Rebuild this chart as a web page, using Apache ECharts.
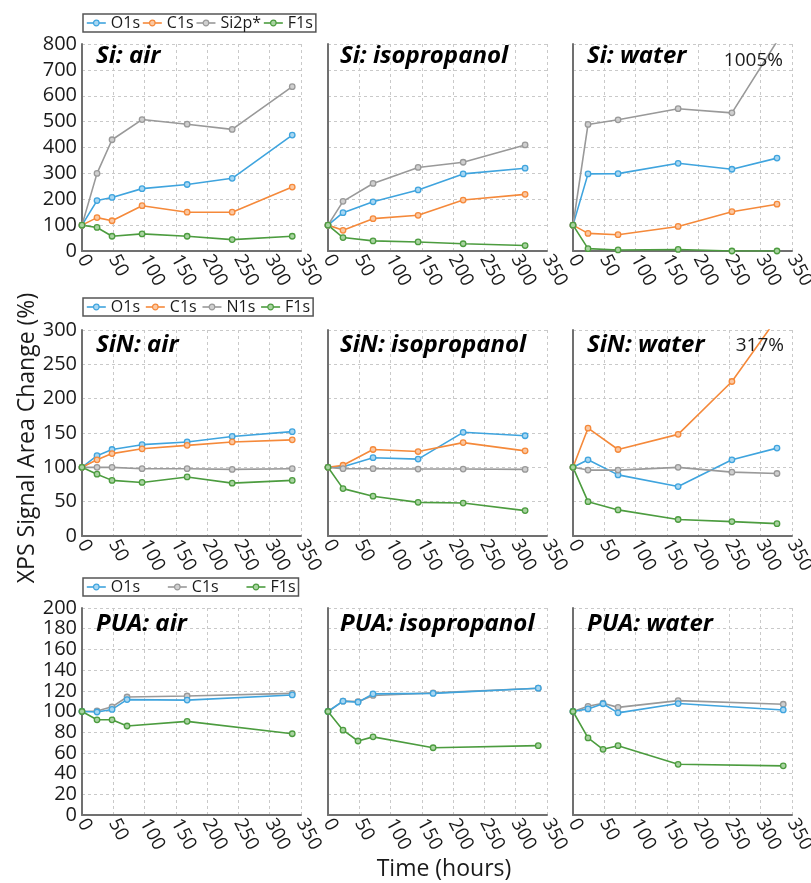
<!DOCTYPE html>
<html><head><meta charset="utf-8">
<script src="https://cdn.jsdelivr.net/npm/echarts@6/dist/echarts.min.js"></script>
<style>html,body{margin:0;padding:0;background:#fff}#c{width:811px;height:883px}</style>
</head><body><div id="c"></div>
<script>
// ---- Data ----
const xTicks = [0, 50, 100, 150, 200, 250, 300, 350];
const rowYMax = [800, 300, 200];
const rowYStep = [100, 50, 20];

const siAirTime = [0, 24, 48, 96, 168, 240, 336];
const siAirO1s  = [100, 195, 207, 241, 257, 281, 448];
const siAirC1s  = [100, 129, 117, 175, 150, 150, 247];
const siAirSi2p = [100, 300, 430, 508, 490, 470, 635];
const siAirF1s  = [100, 91, 57, 66, 57, 44, 57];

const siIpaTime = [0, 24, 72, 144, 216, 315];
const siIpaO1s  = [100, 148, 190, 236, 298, 320];
const siIpaC1s  = [100, 80, 125, 138, 197, 219];
const siIpaSi2p = [100, 192, 261, 323, 343, 410];
const siIpaF1s  = [100, 52, 39, 35, 28, 21];

const siWaterTime = [0, 24, 72, 168, 254, 326];
const siWaterO1s  = [100, 298, 299, 339, 316, 359];
const siWaterC1s  = [100, 68, 63, 95, 152, 181];
const siWaterSi2p = [100, 489, 507, 550, 534, 810];
const siWaterF1s  = [100, 9, 4, 6, 0, 0];

const sinAirTime = [0, 24, 48, 96, 168, 240, 336];
const sinAirO1s  = [100, 117, 126, 133, 137, 145, 152];
const sinAirC1s  = [100, 111, 120, 127, 132, 137, 140];
const sinAirN1s  = [100, 100, 100, 98, 98, 97, 98];
const sinAirF1s  = [100, 90, 81, 78, 86, 77, 81];

const sinIpaTime = [0, 24, 72, 144, 216, 315];
const sinIpaO1s  = [100, 101, 114, 112, 151, 146];
const sinIpaC1s  = [100, 103, 126, 123, 136, 124];
const sinIpaN1s  = [100, 98, 98, 97.5, 97.5, 97];
const sinIpaF1s  = [100, 69, 58, 49, 48, 37];

const sinWaterTime = [0, 24, 72, 168, 254, 326];
const sinWaterO1s  = [100, 111, 89, 72, 111, 128];
const sinWaterC1s  = [100, 157, 126, 148, 225, 317];
const sinWaterN1s  = [100, 96, 96, 100, 93, 91];
const sinWaterF1s  = [100, 50, 38, 24, 21, 18];

const puaAirTime = [0, 24, 48, 72, 168, 336];
const puaAirO1s  = [100, 99.5, 102, 111.5, 111, 116];
const puaAirC1s  = [100, 100.5, 104.5, 114, 115, 117.5];
const puaAirF1s  = [100, 92, 92, 86, 90.5, 78.5];

const puaIpaTime = [0, 24, 48, 72, 168, 336];
const puaIpaO1s  = [100, 110, 109, 117, 117.5, 122.5];
const puaIpaC1s  = [100, 110, 109.5, 115.5, 118, 122.5];
const puaIpaF1s  = [100, 82, 71.5, 75.5, 65, 67];

const puaWaterTime = [0, 24, 48, 72, 168, 336];
const puaWaterO1s  = [100, 102.5, 107.5, 98.7, 107.7, 101.5];
const puaWaterC1s  = [100, 105, 108, 104, 110.5, 107];
const puaWaterF1s  = [100, 74.5, 63.5, 67, 49, 47.5];

const panelTitles = ['Si: air', 'Si: isopropanol', 'Si: water',
                     'SiN: air', 'SiN: isopropanol', 'SiN: water',
                     'PUA: air', 'PUA: isopropanol', 'PUA: water'];
const legendRow1 = ['O1s', 'C1s', 'Si2p*', 'F1s'];
const legendRow2 = ['O1s', 'C1s', 'N1s', 'F1s'];
const legendRow3 = ['O1s', 'C1s', 'F1s'];

// ---- Styling ----
const C = {
  blue:   ['#3fa4de', '#a8d7f2'],
  orange: ['#f5893a', '#fbc8a2'],
  gray:   ['#999999', '#cfcfcf'],
  green:  ['#4c9c3f', '#a9d3a1']
};
const FONT = 'Open Sans';

const colLeft = [82, 328, 573];
const rowTop = [44, 330, 608];
const rowH = [207, 206, 207];
const W = 219;

const grids = [], xAxes = [], yAxes = [];
for (let r = 0; r < 3; r++) {
  for (let c = 0; c < 3; c++) {
    const i = r * 3 + c;
    grids.push({ left: colLeft[c], top: rowTop[r], width: W, height: rowH[r], containLabel: false, outerBoundsMode: 'none' });
    xAxes.push({
      type: 'value', gridIndex: i, min: xTicks[0], max: xTicks[xTicks.length - 1], interval: xTicks[1] - xTicks[0],
      axisLine: { show: true, onZero: false, lineStyle: { color: '#707070', width: 2 } },
      axisTick: { show: false },
      splitLine: { show: true, lineStyle: { color: '#c9c9c9', type: [3, 3], width: 1 } },
      axisLabel: { show: true, rotate: -62, margin: 5, fontSize: 19, fontFamily: FONT, color: '#1a1a1a', showMaxLabel: true, showMinLabel: true, hideOverlap: false }
    });
    yAxes.push({
      type: 'value', gridIndex: i, min: 0, max: rowYMax[r], interval: rowYStep[r],
      axisLine: { show: true, lineStyle: { color: '#707070', width: 2 } },
      axisTick: { show: false },
      splitLine: { show: true, lineStyle: { color: '#c9c9c9', type: [3, 3], width: 1 } },
      axisLabel: { show: c === 0, margin: 5, fontSize: 20, fontFamily: FONT, color: '#1a1a1a', showMaxLabel: true, showMinLabel: true }
    });
  }
}

const series = [];
function addLine(name, col, times, vals, i) {
  series.push({
    type: 'line', name: name, xAxisIndex: i, yAxisIndex: i,
    data: times.map((t, k) => [t, vals[k]]),
    symbol: 'circle', symbolSize: 5.5, showSymbol: true, clip: true,
    lineStyle: { color: col[0], width: 1.6 },
    itemStyle: { color: col[1], borderColor: col[0], borderWidth: 1.3 },
    emphasis: { disabled: true }, silent: true
  });
}
// Row 1: Si
addLine('O1s', C.blue, siAirTime, siAirO1s, 0);
addLine('C1s', C.orange, siAirTime, siAirC1s, 0);
addLine('Si2p*', C.gray, siAirTime, siAirSi2p, 0);
addLine('F1s', C.green, siAirTime, siAirF1s, 0);
addLine('O1s', C.blue, siIpaTime, siIpaO1s, 1);
addLine('C1s', C.orange, siIpaTime, siIpaC1s, 1);
addLine('Si2p*', C.gray, siIpaTime, siIpaSi2p, 1);
addLine('F1s', C.green, siIpaTime, siIpaF1s, 1);
addLine('O1s', C.blue, siWaterTime, siWaterO1s, 2);
addLine('C1s', C.orange, siWaterTime, siWaterC1s, 2);
addLine('Si2p*', C.gray, siWaterTime, siWaterSi2p, 2);
addLine('F1s', C.green, siWaterTime, siWaterF1s, 2);
// Row 2: SiN
addLine('O1s', C.blue, sinAirTime, sinAirO1s, 3);
addLine('C1s', C.orange, sinAirTime, sinAirC1s, 3);
addLine('N1s', C.gray, sinAirTime, sinAirN1s, 3);
addLine('F1s', C.green, sinAirTime, sinAirF1s, 3);
addLine('O1s', C.blue, sinIpaTime, sinIpaO1s, 4);
addLine('C1s', C.orange, sinIpaTime, sinIpaC1s, 4);
addLine('N1s', C.gray, sinIpaTime, sinIpaN1s, 4);
addLine('F1s', C.green, sinIpaTime, sinIpaF1s, 4);
addLine('O1s', C.blue, sinWaterTime, sinWaterO1s, 5);
addLine('C1s', C.orange, sinWaterTime, sinWaterC1s, 5);
addLine('N1s', C.gray, sinWaterTime, sinWaterN1s, 5);
addLine('F1s', C.green, sinWaterTime, sinWaterF1s, 5);
// Row 3: PUA
addLine('C1s', C.gray, puaAirTime, puaAirC1s, 6);
addLine('O1s', C.blue, puaAirTime, puaAirO1s, 6);
addLine('F1s', C.green, puaAirTime, puaAirF1s, 6);
addLine('C1s', C.gray, puaIpaTime, puaIpaC1s, 7);
addLine('O1s', C.blue, puaIpaTime, puaIpaO1s, 7);
addLine('F1s', C.green, puaIpaTime, puaIpaF1s, 7);
addLine('C1s', C.gray, puaWaterTime, puaWaterC1s, 8);
addLine('O1s', C.blue, puaWaterTime, puaWaterO1s, 8);
addLine('F1s', C.green, puaWaterTime, puaWaterF1s, 8);

function legItem(name, col) {
  return { name: name, itemStyle: { color: col[1], borderColor: col[0], borderWidth: 1.2 }, lineStyle: { color: col[0], width: 1.6 } };
}
const legBase = {
  orient: 'horizontal', left: 83, itemWidth: 19, itemHeight: 7,
  borderColor: '#555555', borderWidth: 1.5, padding: [1, 3, 1, 3], selectedMode: false,
  textStyle: { fontFamily: FONT, fontSize: 16, color: '#1a1a1a' }
};
const rowColors1 = [C.blue, C.orange, C.gray, C.green];
const rowColors3 = [C.blue, C.gray, C.green];
const legends = [
  Object.assign({}, legBase, { top: 14, itemGap: 2, data: legendRow1.map((n, k) => legItem(n, rowColors1[k])) }),
  Object.assign({}, legBase, { top: 298, itemGap: 5, data: legendRow2.map((n, k) => legItem(n, rowColors1[k])) }),
  Object.assign({}, legBase, { top: 578, itemGap: 27, data: legendRow3.map((n, k) => legItem(n, rowColors3[k])) })
];

const titleLeft = [96, 340, 587];
const titleTop = [44, 333, 612];
const titles = panelTitles.map((t, i) => ({
  text: t, left: titleLeft[i % 3], top: titleTop[Math.floor(i / 3)], padding: 0,
  textStyle: { fontFamily: FONT, fontStyle: 'italic', fontWeight: 'bold', fontSize: 24, color: '#000' }
}));
titles.push({ text: '1005%', right: 28, top: 51, padding: 0, textStyle: { fontFamily: FONT, fontWeight: 'normal', fontSize: 19, color: '#1a1a1a' } });
titles.push({ text: '317%', right: 27, top: 336, padding: 0, textStyle: { fontFamily: FONT, fontWeight: 'normal', fontSize: 19, color: '#1a1a1a' } });

const chart = echarts.init(document.getElementById('c'), null, { renderer: 'canvas' });
chart.setOption({
  animation: false,
  backgroundColor: '#ffffff',
  title: titles,
  legend: legends,
  grid: grids,
  xAxis: xAxes,
  yAxis: yAxes,
  series: series,
  graphic: [
    { type: 'text', x: 27, y: 438, rotation: Math.PI / 2,
      style: { text: 'XPS Signal Area Change (%)', align: 'center', verticalAlign: 'middle', textAlign: 'center', textVerticalAlign: 'middle',
               fontFamily: FONT, fontSize: 23, fill: '#1a1a1a' } },
    { type: 'text', x: 444, y: 869,
      style: { text: 'Time (hours)', align: 'center', verticalAlign: 'middle', textAlign: 'center', textVerticalAlign: 'middle',
               fontFamily: FONT, fontSize: 23, fill: '#1a1a1a' } }
  ]
});
</script></body></html>
